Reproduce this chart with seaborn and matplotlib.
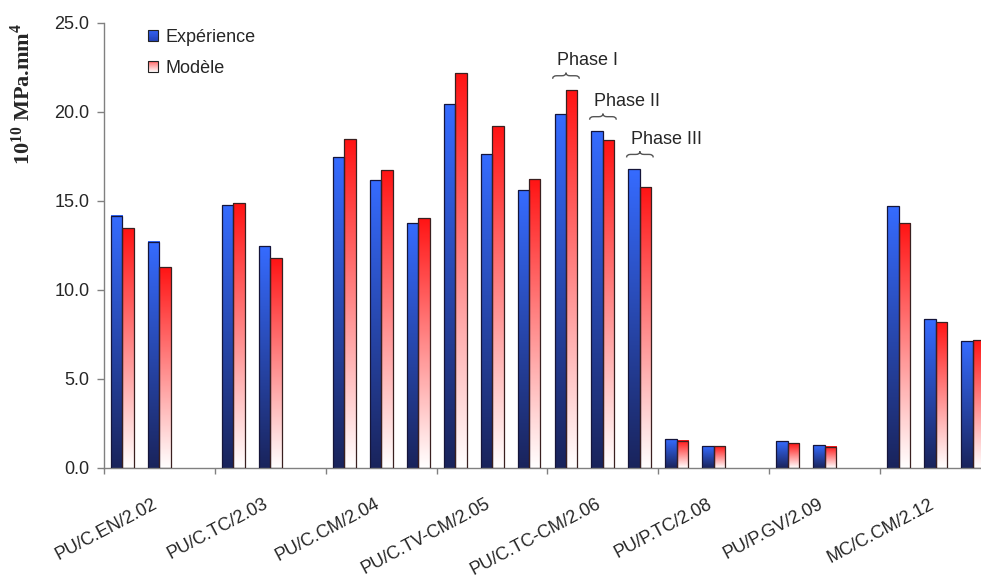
# Rigidité en flexion : expérience vs modèle, barres en dégradé
import numpy as np
import pandas as pd
import matplotlib
matplotlib.use("Agg")
import matplotlib.pyplot as plt
import seaborn as sns
from matplotlib.patches import Patch, Rectangle, PathPatch
from matplotlib.path import Path
from matplotlib.legend_handler import HandlerBase
from matplotlib.transforms import ScaledTranslation

# %% données (10^10 MPa.mm^4)
groups = ["PU/C.EN/2.02", "PU/C.TC/2.03", "PU/C.CM/2.04", "PU/C.TV-CM/2.05",
          "PU/C.TC-CM/2.06", "PU/P.TC/2.08", "PU/P.GV/2.09", "MC/C.CM/2.12"]
experience = [[14.16, 12.70], [14.74, 12.46], [17.47, 16.16, 13.76],
              [20.43, 17.61, 15.60], [19.87, 18.90, 16.78], [1.61, 1.22],
              [1.50, 1.29], [14.69, 8.34, 7.10]]
modele = [[13.48, 11.29], [14.85, 11.76], [18.45, 16.72, 14.04],
          [22.16, 19.20, 16.22], [21.20, 18.39, 15.75], [1.52, 1.22],
          [1.40, 1.18], [13.76, 8.19, 7.16]]
series = ["Expérience", "Modèle"]
phase_labels = ["Phase I", "Phase II", "Phase III"]
phase_group = "PU/C.TC-CM/2.06"

rows = []
for g, (exp, mod) in enumerate(zip(experience, modele)):
    for k, (e, m) in enumerate(zip(exp, mod)):
        rows.append({"slot": 3 * g + k, "serie": series[0], "valeur": e})
        rows.append({"slot": 3 * g + k, "serie": series[1], "valeur": m})
df = pd.DataFrame(rows)

# %% style
sns.set_style("ticks")
plt.rcParams["font.family"] = ["Liberation Sans", "DejaVu Sans"]
plt.rcParams["mathtext.fontset"] = "custom"
plt.rcParams["mathtext.rm"] = "Liberation Serif"
plt.rcParams["mathtext.bf"] = "Liberation Serif:bold"

blue_top, blue_bot = np.array([0.21, 0.42, 1.0]), np.array([0.10, 0.14, 0.36])
red_top, red_bot = np.array([1.0, 0.08, 0.08]), np.array([1.0, 1.0, 1.0])
grey = "#808080"

fig = plt.figure(figsize=(9.81, 5.78), dpi=100)
ax = fig.add_axes([104 / 981, 110.3 / 578, 887 / 981, 445 / 578])

sns.barplot(data=df, x="slot", y="valeur", hue="serie", hue_order=series,
            native_scale=True, width=0.62, errorbar=None, legend=False,
            palette={series[0]: "#3366ff", series[1]: "#ff2020"}, ax=ax)

# dégradé vertical dans chaque barre
bars = []
for cont, (top, bot), edge in zip(ax.containers, [(blue_top, blue_bot), (red_top, red_bot)],
                                  ["#15153a", "#3a2020"]):
    for bar in cont:
        h = bar.get_height()
        if not np.isfinite(h) or h <= 0:
            continue
        bars.append(bar)
        x0, w = bar.get_x(), bar.get_width()
        t = np.linspace(0, 1, 128)[:, None, None]
        img = bot + (top - bot) * t
        ax.imshow(img, extent=[x0, x0 + w, 0, h], origin="lower", aspect="auto",
                  interpolation="bilinear", zorder=2)
        bar.set_facecolor("none")
        bar.set_edgecolor(edge)
        bar.set_linewidth(0.9)
        bar.set_zorder(3)

ax.set_xlim(-0.5, 23.5)
ax.set_ylim(0, 25)

# axes
sns.despine(ax=ax)
for s in ["left", "bottom"]:
    ax.spines[s].set_color(grey)
    ax.spines[s].set_linewidth(1)
ax.set_yticks(np.arange(0, 25.1, 5))
ax.set_yticklabels([f"{v:.1f}" for v in np.arange(0, 25.1, 5)])
ax.tick_params(axis="y", length=5, width=1, color=grey, labelsize=13, pad=5.5)

ax.set_xticks([3 * g - 0.5 for g in range(len(groups) + 1)])
ax.set_xticklabels([])
ax.tick_params(axis="x", which="major", length=4, width=1, color=grey)
ax.set_xticks([3 * g + 1 for g in range(len(groups))], minor=True)
ax.set_xticklabels(groups, minor=True, rotation=28, ha="right", va="top",
                   rotation_mode="anchor")
ax.tick_params(axis="x", which="minor", length=0, pad=20, labelsize=13)
shift = ScaledTranslation(-7 / 100, 0, fig.dpi_scale_trans)
for lab in ax.get_xticklabels(minor=True):
    lab.set_transform(lab.get_transform() + shift)
ax.set_xlabel("")

ax.set_ylabel(r"$\mathbf{10^{10}}$ MPa.mm$^{\mathbf{4}}$", fontsize=16,
              fontfamily="Liberation Serif", fontweight="bold")
ax.yaxis.set_label_coords(-0.078, 0.84)


# légende avec carrés en dégradé
class GradHandler(HandlerBase):
    def __init__(self, top, bot):
        super().__init__()
        self.top, self.bot = top, bot

    def create_artists(self, legend, orig_handle, xdescent, ydescent, width, height, fontsize, trans):
        n = 12
        arts = []
        for i in range(n):
            c = self.bot + (self.top - self.bot) * (i + 0.5) / n
            arts.append(Rectangle((-xdescent, -ydescent + height * i / n), width, height / n,
                                  facecolor=np.clip(c, 0, 1), edgecolor="none", transform=trans))
        arts.append(Rectangle((-xdescent, -ydescent), width, height, fill=False,
                              edgecolor="#222222", lw=0.8, transform=trans))
        return arts


h_exp, h_mod = Patch(label=series[0]), Patch(label=series[1])
ax.legend(handles=[h_exp, h_mod],
          handler_map={h_exp: GradHandler(np.array([0.2, 0.38, 0.95]), np.array([0.14, 0.26, 0.72])),
                       h_mod: GradHandler(np.array([1.0, 0.35, 0.35]), red_bot)},
          loc="upper left", bbox_to_anchor=(148 / 981, 1 - 29 / 578), bbox_transform=fig.transFigure,
          frameon=False, fontsize=13, handlelength=0.55, handleheight=0.55, handletextpad=0.4,
          labelspacing=0.75, borderpad=0, borderaxespad=0)

# accolades "Phase" au-dessus des barres du groupe 2.06
g0 = groups.index(phase_group)


def brace(x0, x1, y, h):
    xm, d = (x0 + x1) / 2, (x1 - x0) * 0.15
    ym = y + h * 0.5
    verts = [(x0, y), (x0, ym), (x0 + d, ym), (xm - d, ym), (xm, ym), (xm, y + h),
             (xm, ym), (xm + d, ym), (x1 - d, ym), (x1, ym), (x1, y)]
    codes = [Path.MOVETO, Path.CURVE3, Path.CURVE3, Path.LINETO, Path.CURVE3, Path.CURVE3,
             Path.CURVE3, Path.CURVE3, Path.LINETO, Path.CURVE3, Path.CURVE3]
    ax.add_patch(PathPatch(Path(verts, codes), fill=False, edgecolor="#555555", lw=1, zorder=4))


for k, lab in enumerate(phase_labels):
    s = 3 * g0 + k
    pair = [b for b in bars if abs(b.get_x() + b.get_width() / 2 - s) < 0.5]
    left = min(b.get_x() for b in pair)
    right = max(b.get_x() + b.get_width() for b in pair)
    top = max(b.get_height() for b in pair)
    y0 = top + 0.65
    brace(left - 0.05, right + 0.05, y0, 0.34)
    ax.text(left + 0.08, y0 + 0.34 + 0.42, lab, fontsize=13, ha="left", va="baseline")

fig.savefig("out.png", dpi=100)
